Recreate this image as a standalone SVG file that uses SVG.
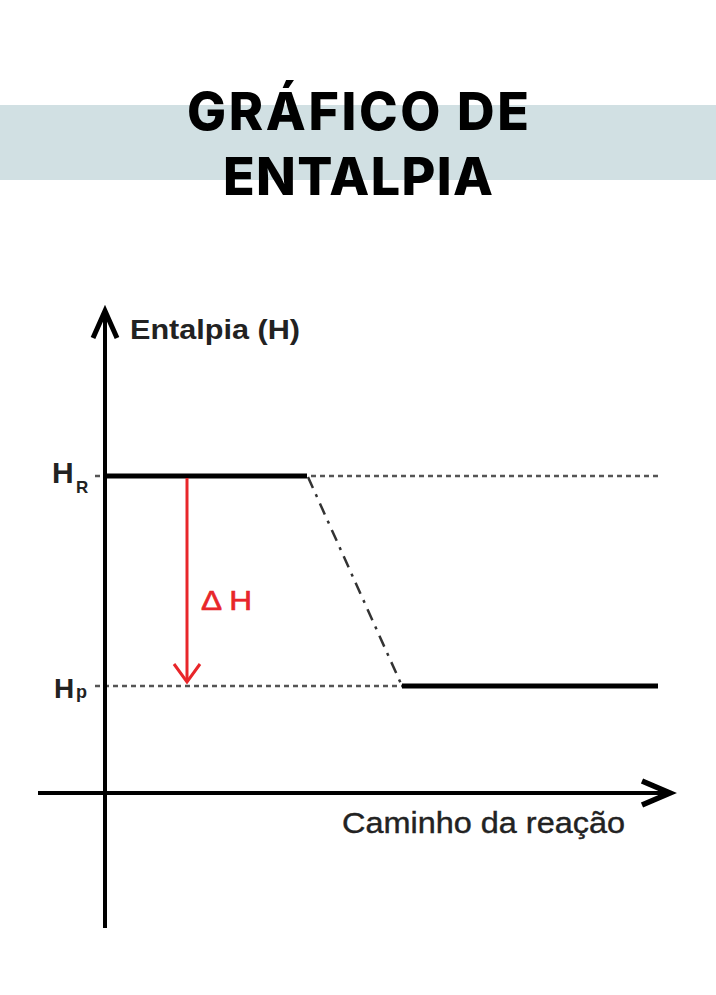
<svg xmlns="http://www.w3.org/2000/svg" width="716" height="995" viewBox="0 0 716 995">
<style>
.title{font-family:Inter,"Open Sans","Liberation Sans",sans-serif;font-weight:800;font-size:52px;fill:#000;}
.lbl{font-family:"Liberation Sans",Arial,sans-serif;fill:#222;}
.axis{stroke:#000;stroke-width:4;fill:none;}
.level{stroke:#000;stroke-width:5;fill:none;}
.dot{stroke:#555;stroke-width:2.5;stroke-dasharray:5 4;fill:none;}
.dashdot{stroke:#333;stroke-width:2.5;stroke-dasharray:12 7 3 7;fill:none;}
.red{stroke:#e8262a;stroke-width:3;fill:none;}
</style>
<rect x="0" y="105" width="716" height="75" fill="#d1e0e3"/>
<g id="title">
<text class="title" x="358" y="130" text-anchor="middle" textLength="342" lengthAdjust="spacing">GRÁFICO DE</text>
<text class="title" x="358" y="195" text-anchor="middle" textLength="270" lengthAdjust="spacing">ENTALPIA</text>
</g>
<g id="connectors">
<line class="dot" x1="95" y1="476" x2="658" y2="476"/>
<line class="dot" x1="95" y1="686" x2="402" y2="686"/>
<line class="dashdot" x1="308" y1="477" x2="402" y2="686"/>
<line class="axis" x1="105" y1="928" x2="105" y2="311"/>
<path d="M93,338 L105,311 L117,338" fill="none" stroke="#000" stroke-width="5" stroke-linejoin="miter"/>
<line class="axis" x1="38" y1="793" x2="670" y2="793"/>
<path d="M642,781 L670,793 L642,805" fill="none" stroke="#000" stroke-width="5.5" stroke-linejoin="miter"/>
<line class="level" x1="105" y1="476" x2="307" y2="476"/>
<line class="level" x1="402" y1="686" x2="658" y2="686"/>
<line class="red" x1="187" y1="478" x2="187" y2="681"/>
<path class="red" d="M174,664 L187,682 L200,664"/>
</g>
<g id="y-axis-label">
<text class="lbl" x="130" y="339" font-size="28" font-weight="bold" textLength="170" lengthAdjust="spacingAndGlyphs">Entalpia (H)</text>
</g>
<g id="x-axis-label">
<text class="lbl" x="342" y="833" font-size="29" textLength="283" lengthAdjust="spacingAndGlyphs" stroke="#222" stroke-width="0.4">Caminho da reação</text>
</g>
<g id="HR">
<text class="lbl" x="52" y="483" font-size="30" font-weight="bold">H</text>
<text class="lbl" x="76" y="493" font-size="17" font-weight="bold">R</text>
</g>
<g id="Hp">
<text class="lbl" x="54" y="698" font-size="28" font-weight="bold">H</text>
<text class="lbl" x="76" y="698" font-size="18" font-weight="bold">p</text>
</g>
<g id="deltaH">
<text x="201" y="610" font-family="'Liberation Sans',Arial,sans-serif" font-size="27" fill="#e8262a" stroke="#e8262a" stroke-width="0.6" textLength="51" lengthAdjust="spacingAndGlyphs">Δ H</text>
</g>
</svg>
